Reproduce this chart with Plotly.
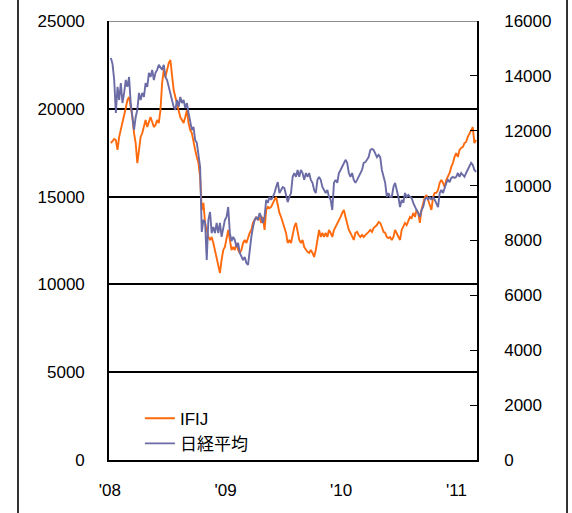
import pandas as pd
import plotly.graph_objects as go

# ------------------------------------------------------------------------------------------------------------ Data
START_DATE = "2008-01-04"
END_DATE = "2011-03-04"

IFIJ = [
    18050, 18170, 18280, 18220, 17660, 18400, 18790, 19190, 19530, 20050, 20500, 20670, 20100, 19530,
    18620, 18050, 16910, 17830, 18400, 18620, 18960, 19360, 18960, 19190, 19530, 19250, 18960, 19080,
    19360, 19190, 19930, 21470, 22210, 21810, 22210, 22610, 22780, 22040, 21070, 20670, 20330, 19930,
    19530, 19360, 19190, 19530, 19930, 19190, 18790, 18620, 18050, 17660, 17260, 16910, 16120, 14240,
    14640, 13500, 13100, 12700, 12530, 12700, 12360, 11960, 11560, 11220, 10650, 11390, 11960, 12130,
    12700, 13100, 12530, 11960, 12130, 11960, 12360, 11960, 11790, 11960, 12360, 12530, 12360, 12700,
    12930, 13100, 13500, 13670, 13840, 13670, 13840, 13500, 13840, 13100, 14240, 14410, 14350, 14410,
    14640, 14810, 14980, 14410, 14070, 13840, 13500, 13270, 12930, 12360, 12530, 12360,
    12930, 13270, 13500, 13100, 12530, 12360, 12530, 12130, 11960, 11850, 11790, 11960, 11790, 11560,
    11960, 12530, 13100, 12700, 12930, 12700, 12930, 12700, 13100, 12930, 12700, 13100, 13270, 13500,
    13670, 13840, 14070, 14240, 13840, 13500, 13100, 12930, 12700, 12530, 12930, 12990, 12810, 12700,
    12810, 12700, 12810, 12930, 12990, 13100, 12990, 13210, 13270, 13380, 13550, 13500,
    13270, 12990, 12930, 12700, 12640, 12700, 12530, 12700, 13100, 12930, 12700, 12530, 13100, 13270,
    13500, 13380, 13670, 13840, 13780, 14070, 13840, 14240, 14070, 13500, 14240, 14640, 14980, 15090,
    14810, 14640, 14240, 14980, 15210, 15210, 15380, 15780, 15950, 15780, 15550, 15950, 16120, 16350,
    16690, 16910, 17260, 17480, 17260, 17660, 17770, 17830, 18050, 18110, 18400, 18620, 18790, 18960,
    18050, 18220,
]

NIKKEI = [
    14650, 14430, 13850, 12650, 13600, 13120, 13740, 13010, 13380, 13850, 13600, 13960, 13010, 12500,
    12030, 12500, 12760, 13380, 13120, 13380, 13230, 13740, 13600, 14110, 13960, 14220, 13850, 14110,
    14220, 14400, 14330, 14220, 14400, 13960, 13850, 13600, 13380, 13120, 12870, 12760, 13120, 12870,
    13230, 13010, 13120, 12830, 13010, 12650, 12390, 12030, 12140, 11660, 11560, 11190, 10680, 8310,
    8750, 8680, 7290, 8750, 9040, 8270, 8490, 8270, 8640, 8270, 8640, 8130, 8490, 8750,
    8860, 9220, 8270, 7980, 8130, 8020, 7760, 7910, 7550, 7400, 7290, 7400, 7180, 7110,
    7660, 8130, 8490, 8750, 8860, 8750, 9000, 8860, 8640, 8860, 9480, 9370, 9590, 9480,
    9590, 9730, 9950, 10130, 9730, 9840, 9950, 9910, 9590, 9400, 9590, 9730,
    10320, 10460, 10320, 10570, 10320, 10570, 10460, 10210, 10460, 10320, 10460, 10210, 10100, 9840,
    9730, 10210, 10320, 10210, 9950, 9840, 9730, 9840, 9590, 9480, 9110, 10100, 10210, 10100,
    10460, 10570, 10680, 10830, 10940, 10830, 10460, 10320, 10460, 10210, 10100, 10210, 10320, 10460,
    10570, 10830, 10860, 10940, 11040, 11300, 11340, 11300, 11190, 11040, 11120, 11040,
    10570, 10320, 10100, 9590, 9730, 9590, 9590, 9950, 10100, 9840, 9590, 9220, 9480, 9370,
    9730, 9590, 9660, 9590, 9550, 9370, 9220, 9110, 9000, 8860, 9110, 9220, 9480, 9590,
    9480, 9590, 9480, 9590, 9480, 9370, 9220, 9730, 9840, 9730, 9950, 10100, 10210, 10130,
    10280, 10320, 10280, 10320, 10460, 10320, 10460, 10390, 10320, 10460, 10570, 10680, 10830, 10750,
    10570, 10500,
]

YEAR_TICKS = ["2008-01-01", "2009-01-01", "2010-01-01", "2011-01-01"]
YEAR_LABELS = ["'08", "'09", "'10", "'11"]
LEFT_TICKS = [0, 5000, 10000, 15000, 20000, 25000]
RIGHT_TICKS = [0, 2000, 4000, 6000, 8000, 10000, 12000, 14000, 16000]

ORANGE = "#FF6A0D"
SLATE = "#6B6BA6"
FONT = "Liberation Sans, Noto Sans CJK JP, sans-serif"

dates = pd.date_range(START_DATE, END_DATE, periods=len(IFIJ))

fig = go.Figure()
fig.add_trace(go.Scatter(x=dates, y=IFIJ, name="IFIJ", mode="lines", line=dict(color=ORANGE, width=1.9)))
fig.add_trace(
    go.Scatter(x=dates, y=NIKKEI, name="日経平均", mode="lines", yaxis="y2", line=dict(color=SLATE, width=1.9))
)

fig.update_layout(
    width=572,
    height=513,
    margin=dict(l=109, r=95, t=21, b=53, autoexpand=False),
    paper_bgcolor="white",
    plot_bgcolor="white",
    font=dict(family=FONT, size=17, color="black"),
    showlegend=True,
    legend=dict(
        x=0.084,
        y=0.135,
        xanchor="left",
        yanchor="top",
        bgcolor="rgba(0,0,0,0)",
        font=dict(size=17),
        tracegroupgap=0,
    ),
    xaxis=dict(
        range=["2007-12-29", "2011-03-07"],
        tickvals=YEAR_TICKS,
        ticktext=YEAR_LABELS,
        ticks="",
        showgrid=False,
        showline=True,
        linecolor="black",
        linewidth=1.6,
        zeroline=False,
        ticklabelstandoff=14,
    ),
    yaxis=dict(
        range=[0, 25000],
        tickvals=LEFT_TICKS,
        ticktext=[str(v) for v in LEFT_TICKS],
        ticks="inside",
        ticklen=6,
        tickcolor="black",
        showgrid=True,
        gridcolor="black",
        gridwidth=1.5,
        showline=True,
        linecolor="black",
        linewidth=1.6,
        zeroline=False,
        ticklabelstandoff=19,
    ),
    yaxis2=dict(
        range=[0, 16000],
        tickvals=RIGHT_TICKS,
        ticktext=[str(v) for v in RIGHT_TICKS],
        overlaying="y",
        side="right",
        ticks="inside",
        ticklen=7,
        tickcolor="black",
        showgrid=False,
        showline=True,
        linecolor="black",
        linewidth=1.6,
        zeroline=False,
        ticklabelstandoff=22,
    ),
)

# grey top edge over the 25000 gridline
fig.add_shape(type="line", xref="paper", yref="y", x0=0, x1=1, y0=25000, y1=25000,
              line=dict(color="#8C8C8C", width=2))
# outer chart frame (left and right edges)
for edge in (-0.2473, 1.2446):
    fig.add_shape(type="line", xref="paper", yref="paper", x0=edge, x1=edge, y0=-0.2, y1=1.2,
                  line=dict(color="black", width=1.6))

# drop the default page margin so the figure fills the window exactly
fig.write_html(
    "out.html",
    config={"displayModeBar": False},
    post_script="document.body.style.margin='0';document.body.style.overflow='hidden';",
)
